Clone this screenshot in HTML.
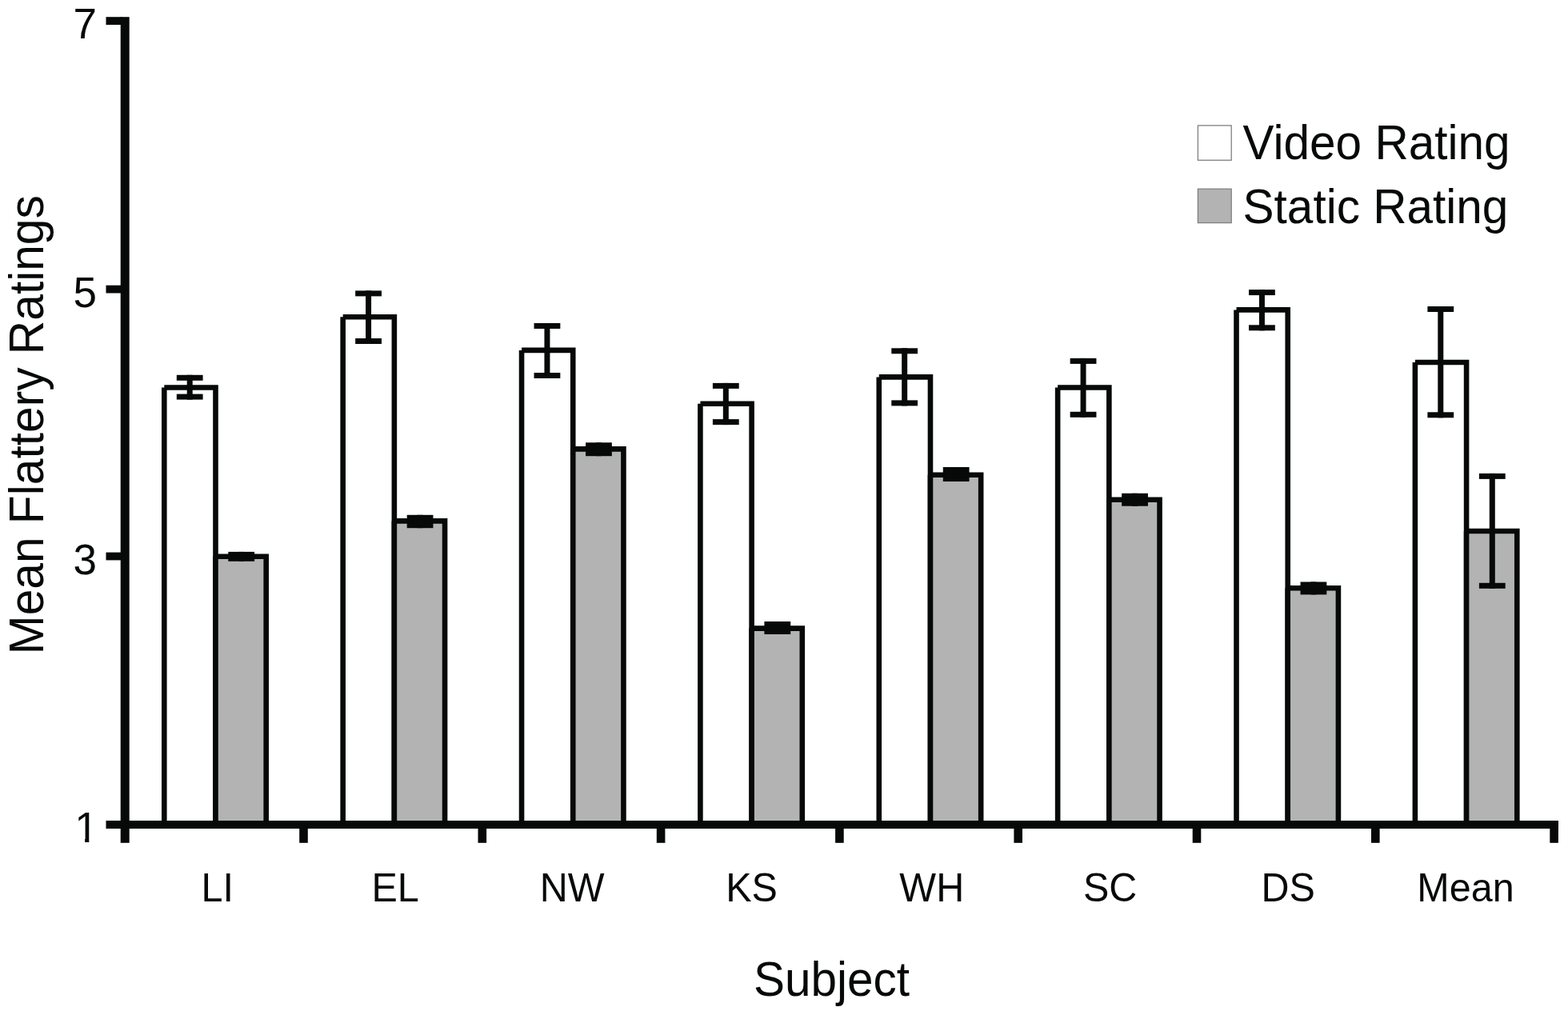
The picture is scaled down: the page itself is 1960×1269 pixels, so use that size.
<!DOCTYPE html>
<html lang="en"><head><meta charset="utf-8"><title>Mean Flattery Ratings by Subject</title>
<style>
html,body{margin:0;padding:0;background:#fff;}
body{width:1960px;height:1269px;overflow:hidden;}
svg{display:block;}
text{font-family:"Liberation Sans",Arial,Helvetica,sans-serif;fill:#070909;}
.yt{font-size:53px;text-anchor:end;}
.xt{font-size:48.5px;text-anchor:middle;}
.ttl{font-size:58.5px;text-anchor:middle;}
.lg{font-size:58.5px;text-anchor:start;}
</style></head><body>
<svg width="1960" height="1269" viewBox="0 0 1960 1269">
<rect x="0" y="0" width="1960" height="1269" fill="#ffffff"/>
<defs><clipPath id="c1"><rect x="-40" y="-45" width="40" height="40.2"/><rect x="-16.6" y="-5" width="5.2" height="6"/></clipPath></defs>
<g stroke="#070909" stroke-width="6.60" stroke-linejoin="miter" stroke-linecap="butt">
<path d="M205.30 484.50H269.50V1031.00H205.30V484.50" fill="#ffffff"/>
<path d="M269.50 695.70H332.70V1031.00H269.50V695.70" fill="#b3b3b3"/>
<path d="M428.67 396.20H492.87V1031.00H428.67V396.20" fill="#ffffff"/>
<path d="M492.87 651.40H556.07V1031.00H492.87V651.40" fill="#b3b3b3"/>
<path d="M652.04 437.90H716.24V1031.00H652.04V437.90" fill="#ffffff"/>
<path d="M716.24 561.40H779.44V1031.00H716.24V561.40" fill="#b3b3b3"/>
<path d="M875.41 504.70H939.61V1031.00H875.41V504.70" fill="#ffffff"/>
<path d="M939.61 785.60H1002.81V1031.00H939.61V785.60" fill="#b3b3b3"/>
<path d="M1098.78 471.40H1162.98V1031.00H1098.78V471.40" fill="#ffffff"/>
<path d="M1162.98 593.70H1226.18V1031.00H1162.98V593.70" fill="#b3b3b3"/>
<path d="M1322.15 484.50H1386.35V1031.00H1322.15V484.50" fill="#ffffff"/>
<path d="M1386.35 624.80H1449.55V1031.00H1386.35V624.80" fill="#b3b3b3"/>
<path d="M1545.52 387.40H1609.72V1031.00H1545.52V387.40" fill="#ffffff"/>
<path d="M1609.72 735.20H1672.92V1031.00H1609.72V735.20" fill="#b3b3b3"/>
<path d="M1768.89 453.00H1833.09V1031.00H1768.89V453.00" fill="#ffffff"/>
<path d="M1833.09 664.00H1896.29V1031.00H1833.09V664.00" fill="#b3b3b3"/>
</g>
<g fill="#070909">
<rect x="220.80" y="468.80" width="32.80" height="7.00"/>
<rect x="220.80" y="492.60" width="32.80" height="7.00"/>
<rect x="233.70" y="468.80" width="7.00" height="30.80"/>
<rect x="285.30" y="689.90" width="32.80" height="7.00"/>
<rect x="285.30" y="694.80" width="32.80" height="7.00"/>
<rect x="298.20" y="689.90" width="7.00" height="11.90"/>
<rect x="444.17" y="363.40" width="32.80" height="7.00"/>
<rect x="444.17" y="423.00" width="32.80" height="7.00"/>
<rect x="457.07" y="363.40" width="7.00" height="66.60"/>
<rect x="508.67" y="643.80" width="32.80" height="7.00"/>
<rect x="508.67" y="653.20" width="32.80" height="7.00"/>
<rect x="521.57" y="643.80" width="7.00" height="16.40"/>
<rect x="667.54" y="404.00" width="32.80" height="7.00"/>
<rect x="667.54" y="466.00" width="32.80" height="7.00"/>
<rect x="680.44" y="404.00" width="7.00" height="69.00"/>
<rect x="732.04" y="553.30" width="32.80" height="7.00"/>
<rect x="732.04" y="563.20" width="32.80" height="7.00"/>
<rect x="744.94" y="553.30" width="7.00" height="16.90"/>
<rect x="890.91" y="478.90" width="32.80" height="7.00"/>
<rect x="890.91" y="524.10" width="32.80" height="7.00"/>
<rect x="903.81" y="478.90" width="7.00" height="52.20"/>
<rect x="955.41" y="777.00" width="32.80" height="7.00"/>
<rect x="955.41" y="786.00" width="32.80" height="7.00"/>
<rect x="968.31" y="777.00" width="7.00" height="16.00"/>
<rect x="1114.28" y="435.30" width="32.80" height="7.00"/>
<rect x="1114.28" y="500.40" width="32.80" height="7.00"/>
<rect x="1127.18" y="435.30" width="7.00" height="72.10"/>
<rect x="1178.78" y="584.00" width="32.80" height="7.00"/>
<rect x="1178.78" y="595.00" width="32.80" height="7.00"/>
<rect x="1191.68" y="584.00" width="7.00" height="18.00"/>
<rect x="1337.65" y="447.90" width="32.80" height="7.00"/>
<rect x="1337.65" y="514.80" width="32.80" height="7.00"/>
<rect x="1350.55" y="447.90" width="7.00" height="73.90"/>
<rect x="1402.15" y="616.80" width="32.80" height="7.00"/>
<rect x="1402.15" y="625.70" width="32.80" height="7.00"/>
<rect x="1415.05" y="616.80" width="7.00" height="15.90"/>
<rect x="1561.02" y="362.10" width="32.80" height="7.00"/>
<rect x="1561.02" y="406.30" width="32.80" height="7.00"/>
<rect x="1573.92" y="362.10" width="7.00" height="51.20"/>
<rect x="1625.52" y="727.50" width="32.80" height="7.00"/>
<rect x="1625.52" y="736.40" width="32.80" height="7.00"/>
<rect x="1638.42" y="727.50" width="7.00" height="15.90"/>
<rect x="1784.39" y="383.00" width="32.80" height="7.00"/>
<rect x="1784.39" y="515.30" width="32.80" height="7.00"/>
<rect x="1797.29" y="383.00" width="7.00" height="139.30"/>
<rect x="1848.89" y="591.90" width="32.80" height="7.00"/>
<rect x="1848.89" y="728.80" width="32.80" height="7.00"/>
<rect x="1861.79" y="591.90" width="7.00" height="143.90"/>
</g>
<g fill="#070909">
<rect x="150.7" y="21.2" width="11" height="1032.6"/>
<rect x="132.5" y="1026" width="1815.5" height="10"/>
<rect x="132.5" y="21.2" width="20" height="9.8"/>
<rect x="132.5" y="356.7" width="20" height="9.8"/>
<rect x="132.5" y="690.6" width="20" height="9.8"/>
<rect x="374.20" y="1030" width="10.6" height="23.8"/>
<rect x="597.50" y="1030" width="10.6" height="23.8"/>
<rect x="820.80" y="1030" width="10.6" height="23.8"/>
<rect x="1044.10" y="1030" width="10.6" height="23.8"/>
<rect x="1267.40" y="1030" width="10.6" height="23.8"/>
<rect x="1490.70" y="1030" width="10.6" height="23.8"/>
<rect x="1714.00" y="1030" width="10.6" height="23.8"/>
<rect x="1937.30" y="1030" width="10.6" height="23.8"/>
</g>
<text class="yt" transform="translate(121.00 48.30)">7</text>
<text class="yt" transform="translate(121.00 383.80)">5</text>
<text class="yt" transform="translate(121.00 717.70)">3</text>
<text class="yt" transform="translate(122.70 1053.20)" clip-path="url(#c1)">1</text>
<text class="xt" transform="translate(271.75 1127.10) scale(1 1.040)">LI</text>
<text class="xt" transform="translate(494.15 1127.10) scale(1 1.040)">EL</text>
<text class="xt" transform="translate(715.05 1127.10) scale(1 1.040)">NW</text>
<text class="xt" transform="translate(939.55 1127.10) scale(1 1.040)">KS</text>
<text class="xt" transform="translate(1164.75 1127.10) scale(1 1.040)">WH</text>
<text class="xt" transform="translate(1387.60 1127.10) scale(1 1.040)">SC</text>
<text class="xt" transform="translate(1610.15 1127.10) scale(1 1.040)">DS</text>
<text class="xt" transform="translate(1831.95 1127.10) scale(1 1.040)">Mean</text>
<text class="ttl" transform="translate(1039.50 1245.00) scale(1 1.030)">Subject</text>
<text class="ttl" transform="translate(54.00 531.20) rotate(-90) scale(1 1.030)" style="font-size:58.7px">Mean Flattery Ratings</text>
<rect x="1497.4" y="156.9" width="41.8" height="43.4" fill="#ffffff" stroke="#808080" stroke-width="1.3"/>
<rect x="1497.4" y="236.2" width="41.8" height="42.4" fill="#b3b3b3" stroke="#808080" stroke-width="1.3"/>
<text class="lg" transform="translate(1553.60 199.30) scale(1 1.030)">Video Rating</text>
<text class="lg" transform="translate(1553.60 278.70) scale(1 1.030)">Static Rating</text>
</svg>
</body></html>
